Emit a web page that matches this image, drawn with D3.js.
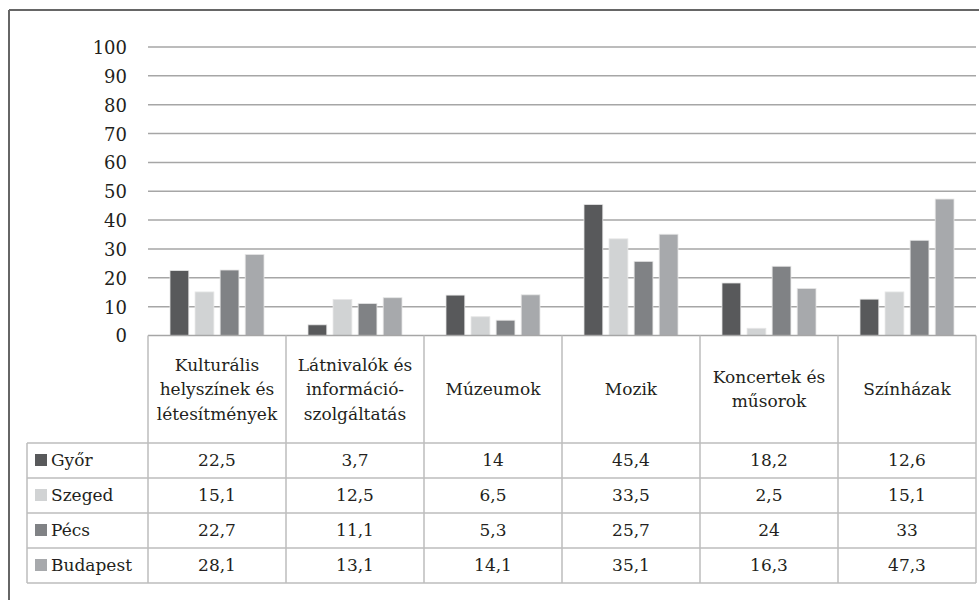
<!DOCTYPE html>
<html><head><meta charset="utf-8">
<script src="https://cdn.jsdelivr.net/npm/d3@7"></script>
<style>
html,body{margin:0;padding:0;background:#fff;}
</style></head>
<body><svg id="chart" width="979" height="600" font-family="DejaVu Serif"></svg>
<script>
const categories = [["Kulturális","helyszínek és","létesítmények"],["Látnivalók és","információ-","szolgáltatás"],["Múzeumok"],["Mozik"],["Koncertek és","műsorok"],["Színházak"]];
const series = ["Győr","Szeged","Pécs","Budapest"];
const gyor = [22.5,3.7,14,45.4,18.2,12.6];
const szeged = [15.1,12.5,6.5,33.5,2.5,15.1];
const pecs = [22.7,11.1,5.3,25.7,24,33];
const budapest = [28.1,13.1,14.1,35.1,16.3,47.3];
const yTicks = [0,10,20,30,40,50,60,70,80,90,100];
const colors = ["#58595b","#d1d3d4","#808285","#a7a9ac"];
const values = [gyor, szeged, pecs, budapest];
const fmt = v => String(v).replace(".", ",");
const FONT = "DejaVu Serif";

const svg = d3.select("#chart");
const catIdx = d3.range(categories.length);
const x = d3.scaleBand().domain(catIdx).range([148, 976]);
const xs = d3.scaleBand().domain(d3.range(series.length)).range([22, 116]).paddingInner(0.25);
const y = d3.scaleLinear().domain([0, 100]).range([335.5, 47]);

svg.append("line").attr("x1",9).attr("x2",979).attr("y1",10).attr("y2",10).attr("stroke","#666").attr("stroke-width",2);
svg.append("line").attr("x1",9).attr("x2",9).attr("y1",10).attr("y2",600).attr("stroke","#666").attr("stroke-width",2);

svg.append("g").selectAll("line").data(yTicks.filter(t=>t>0)).join("line")
  .attr("x1",148).attr("x2",976).attr("y1",d=>y(d)).attr("y2",d=>y(d))
  .attr("stroke","#a6a6a6").attr("stroke-width",1.5);

const yAxis = d3.axisLeft(y).tickValues(yTicks).tickSize(0).tickPadding(0);
const ga = svg.append("g").attr("transform","translate(127,0)").call(yAxis);
ga.attr("font-family", FONT).attr("font-size", 18);
ga.select(".domain").remove();
ga.selectAll("text").attr("font-family", FONT).attr("font-size", 18).attr("fill","#231f20").attr("dy","0.36em");

const g = svg.append("g");
catIdx.forEach(ci => {
  series.forEach((s, si) => {
    const v = values[si][ci];
    g.append("rect")
      .attr("x", x(ci) + xs(si)).attr("width", xs.bandwidth())
      .attr("y", y(v)).attr("height", y(0) - y(v))
      .attr("fill", colors[si]).attr("stroke","#e6e6e6").attr("stroke-width",0.8);
  });
});

const rowTop = 443, rowH = 35;
const tableBottom = rowTop + rowH * series.length;
const lc = "#bcbcbc";
const tg = svg.append("g");
tg.append("line").attr("x1",148).attr("x2",976).attr("y1",y(0)).attr("y2",y(0)).attr("stroke","#a6a6a6").attr("stroke-width",1.5);
catIdx.concat([categories.length]).forEach(ci => {
  const xx = ci < categories.length ? x(ci) : x(categories.length-1) + x.bandwidth();
  tg.append("line").attr("x1",xx).attr("x2",xx).attr("y1",y(0)).attr("y2",tableBottom).attr("stroke",lc).attr("stroke-width",1.5);
});
tg.append("line").attr("x1",27).attr("x2",27).attr("y1",rowTop).attr("y2",tableBottom).attr("stroke",lc).attr("stroke-width",1.5);
d3.range(series.length + 1).forEach(r => {
  const yy = rowTop + r * rowH;
  tg.append("line").attr("x1",27).attr("x2",976).attr("y1",yy).attr("y2",yy).attr("stroke",lc).attr("stroke-width",1.5);
});

const fs = 17;
function txt(sel){ return sel.attr("font-family", FONT).attr("font-size", fs).attr("fill","#231f20"); }
const headerMid = (y(0) + rowTop) / 2;
const lineH = 24.5;
categories.forEach((lines, ci) => {
  const cx = x(ci) + x.bandwidth() / 2;
  const t = txt(tg.append("text").attr("text-anchor","middle"));
  const start = headerMid - (lines.length - 1) * lineH / 2;
  lines.forEach((ln, li) => {
    t.append("tspan").attr("x", cx).attr("y", start + li * lineH).attr("dy","0.35em").text(ln);
  });
});

series.forEach((s, si) => {
  const cy = rowTop + si * rowH + rowH / 2;
  tg.append("rect").attr("x",35).attr("y",cy - 6.5).attr("width",12).attr("height",12).attr("fill",colors[si]);
  txt(tg.append("text").attr("x",51).attr("y",cy).attr("dy","0.35em")).text(s);
  catIdx.forEach(ci => {
    txt(tg.append("text").attr("x", x(ci) + x.bandwidth()/2).attr("y", cy).attr("dy","0.35em")
      .attr("text-anchor","middle")).text(fmt(values[si][ci]));
  });
});
</script></body></html>
